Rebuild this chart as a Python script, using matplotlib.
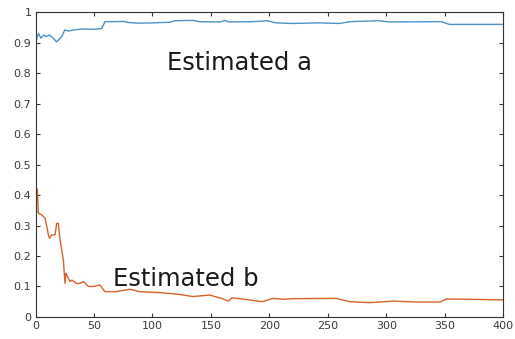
import matplotlib
matplotlib.use('Agg')
import matplotlib.pyplot as plt

# estimated parameter a (blue)
a_x = [0, 0.5, 1, 2.6, 4.6, 7, 9, 12, 15, 18, 20, 22.5, 25, 28, 33, 41, 50, 56.6, 59.4,
       69, 75, 80, 89, 100, 115, 119, 135, 140, 158, 162, 165, 186, 198, 206, 220, 243,
       260, 269, 294, 303, 347, 354, 400]
a_y = [0.47, 0.90, 0.915, 0.93, 0.915, 0.925, 0.92, 0.925, 0.915, 0.903, 0.91, 0.92,
       0.942, 0.938, 0.942, 0.945, 0.944, 0.946, 0.969, 0.969, 0.970, 0.966, 0.964,
       0.965, 0.967, 0.972, 0.973, 0.969, 0.968, 0.973, 0.968, 0.969, 0.972, 0.965,
       0.963, 0.965, 0.963, 0.969, 0.972, 0.968, 0.969, 0.960, 0.960]

# estimated parameter b (orange)
b_x = [0, 0.5, 1, 1.5, 2.4, 5.3, 8.1, 10, 11, 12, 13.8, 16.7, 18.1, 19.5, 21, 22.4, 23.8,
       25.2, 26, 26.6, 29.5, 31, 35, 38, 41, 45.4, 50, 55, 59.4, 69, 80.8, 89, 106, 121,
       135, 149, 155, 160, 165, 168, 183, 194, 203, 212, 220, 257, 269, 286, 306, 326,
       346, 351.5, 370, 400]
b_y = [0.34, 0.43, 0.40, 0.42, 0.34, 0.335, 0.324, 0.29, 0.269, 0.258, 0.269, 0.27,
       0.307, 0.307, 0.253, 0.22, 0.187, 0.11, 0.143, 0.138, 0.116, 0.121, 0.11, 0.11,
       0.116, 0.10, 0.10, 0.105, 0.083, 0.083, 0.091, 0.083, 0.080, 0.075, 0.067, 0.072,
       0.065, 0.060, 0.052, 0.063, 0.056, 0.050, 0.061, 0.058, 0.060, 0.061, 0.050, 0.047,
       0.052, 0.049, 0.049, 0.059, 0.058, 0.056]

x_ticks = [0, 50, 100, 150, 200, 250, 300, 350, 400]
y_ticks = [0, 0.1, 0.2, 0.3, 0.4, 0.5, 0.6, 0.7, 0.8, 0.9, 1]
y_labels = ['0', '0.1', '0.2', '0.3', '0.4', '0.5', '0.6', '0.7', '0.8', '0.9', '1']

W, H = 515, 339
fig = plt.figure(figsize=(W / 100, H / 100), dpi=100)
ax = fig.add_axes([0.069, 0.065, 0.908, 0.899])

ax.plot(a_x, a_y, color='#4a93c6', lw=1.0)
ax.plot(b_x, b_y, color='#d9622b', lw=1.0)

ax.set_xlim(0, 400)
ax.set_ylim(0, 1)
ax.set_xticks(x_ticks)
ax.set_yticks(y_ticks)
ax.set_yticklabels(y_labels)
ax.tick_params(direction='in', top=True, right=True, length=3, width=0.8,
               colors='#3a3a3a', labelsize=8, pad=3)
for s in ax.spines.values():
    s.set_color('#333333')
    s.set_linewidth(0.8)

# annotations placed in figure pixels (from top-left)
fig.text(167 / W, 1 - 63 / H, 'Estimated a', fontsize=17.5, color='#1a1a1a',
         va='center', ha='left')
fig.text(113 / W, 1 - 279 / H, 'Estimated b', fontsize=17.5, color='#1a1a1a',
         va='center', ha='left')

fig.savefig('out.png', dpi=100)
